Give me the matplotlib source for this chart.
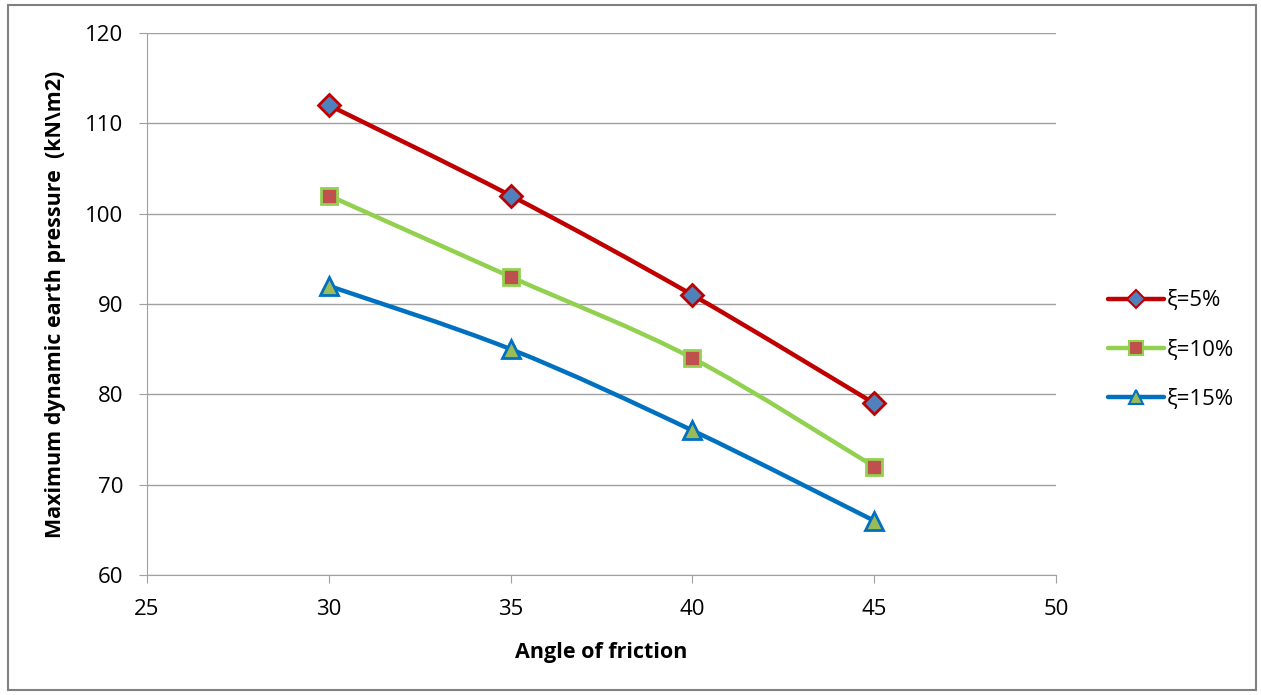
import numpy as np
import matplotlib
matplotlib.use('Agg')
import matplotlib.pyplot as plt
from matplotlib.path import Path
from matplotlib.patches import PathPatch, Rectangle
from matplotlib.lines import Line2D

plt.rcParams['font.family'] = ['Open Sans', 'DejaVu Sans']

angulo = [30, 35, 40, 45]
p5 = [112, 102, 91, 79]
p10 = [102, 93, 84, 72]
p15 = [92, 85, 76, 66]
etiquetas = ['ξ=5%', 'ξ=10%', 'ξ=15%']

series = [
    (p5, '#C00000', 'D', '#4F81BD', 11),
    (p10, '#92D050', 's', '#C0504D', 12),
    (p15, '#0070C0', '^', '#9BBB59', 13),
]


def curva_suave(x, y):
    # curva tipo Excel (bezier a partir de los puntos)
    pts = np.column_stack([x, y]).astype(float)
    ext = np.vstack([pts[0], pts, pts[-1]])
    verts = [pts[0]]
    codes = [Path.MOVETO]
    for i in range(len(pts) - 1):
        p0, p1, p2, p3 = ext[i], ext[i + 1], ext[i + 2], ext[i + 3]
        c1 = p1 + (p2 - p0) / 6
        c2 = p2 - (p3 - p1) / 6
        verts += [c1, c2, p2]
        codes += [Path.CURVE4] * 3
    return Path(verts, codes)


fig = plt.figure(figsize=(12.61, 6.95), dpi=100)
ax = fig.add_axes([0.1166, 0.1727, 0.7208, 0.7799])

handles = []
for (y, color, mk, cara, ms), lab in zip(series, etiquetas):
    ax.add_patch(PathPatch(curva_suave(angulo, y), fill=False,
                           edgecolor=color, lw=3.2, zorder=3,
                           capstyle='round'))
    ax.plot(angulo, y, linestyle='none', marker=mk, markersize=ms,
            markerfacecolor=cara, markeredgecolor=color,
            markeredgewidth=2, zorder=4)
    handles.append(Line2D([], [], color=color, lw=3.2, marker=mk,
                          markersize=ms, markerfacecolor=cara,
                          markeredgecolor=color, markeredgewidth=1.5,
                          solid_capstyle='round'))

ax.set_xlim(25, 50)
ax.set_ylim(60, 120)
ax.set_xticks([25, 30, 35, 40, 45, 50])
ax.set_yticks([60, 70, 80, 90, 100, 110, 120])
ax.grid(True, axis='y', color='#A0A0A0', lw=1)
ax.set_axisbelow(True)
for s in ['top', 'right']:
    ax.spines[s].set_visible(False)
for s in ['left', 'bottom']:
    ax.spines[s].set_color('#A0A0A0')
ax.tick_params(axis='x', direction='out', length=6, color='#A0A0A0',
               labelsize=16, pad=11)
ax.tick_params(axis='y', direction='out', length=6, color='#A0A0A0',
               labelsize=16, pad=11)

ax.set_xlabel('Angle of friction', fontsize=15.5, fontweight='bold',
              labelpad=16)
ax.set_ylabel('Maximum dynamic earth pressure  (kN\\m2)', fontsize=15.5,
              fontweight='bold', labelpad=14)

fig.legend(handles, etiquetas, loc='center left',
           bbox_to_anchor=(0.863, 0.496), frameon=False, fontsize=16,
           handlelength=2.5, handletextpad=0.15, labelspacing=1.28,
           markerscale=0.82)

fig.patches.append(Rectangle((0.006, 0.007), 0.99, 0.986, fill=False,
                             edgecolor='#808080', lw=1.5,
                             transform=fig.transFigure))

fig.savefig('out.png', dpi=100)
